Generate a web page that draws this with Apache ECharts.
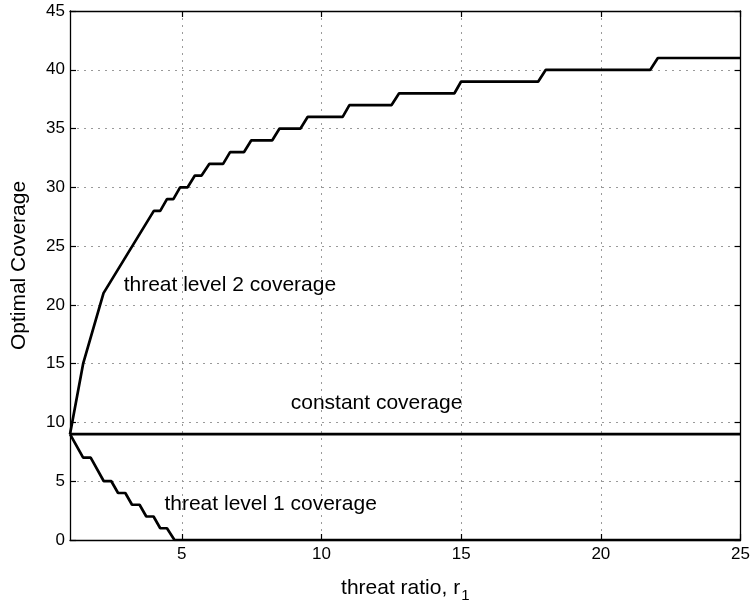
<!DOCTYPE html>
<html>
<head>
<meta charset="utf-8">
<script src="https://cdn.jsdelivr.net/npm/echarts@6/dist/echarts.min.js"></script>
<style>
  html, body { margin: 0; padding: 0; background: #fff; }
  #chart { width: 753px; height: 608px; }
</style>
</head>
<body>
<div id="chart"></div>
<script>
// ---- data ----
const level2X = [1, 1.47, 2.2, 4.0, 4.23, 4.47, 4.7, 4.94, 5.21, 5.47, 5.71, 5.99, 6.48, 6.73, 7.23, 7.49, 8.24, 8.5, 9.25, 9.51, 10.76, 11.0, 12.51, 12.78, 14.76, 15.0, 17.76, 18.03, 21.77, 22.04, 25];
const level2Y = [9, 15, 21, 28, 28, 29, 29, 30, 30, 31, 31, 32, 32, 33, 33, 34, 34, 35, 35, 36, 36, 37, 37, 38, 38, 39, 39, 40, 40, 41, 41];

const level1X = [1, 1.47, 1.74, 2.21, 2.48, 2.72, 2.98, 3.22, 3.49, 3.73, 3.99, 4.23, 4.47, 4.74, 25];
const level1Y = [9, 7, 7, 5, 5, 4, 4, 3, 3, 2, 2, 1, 1, 0, 0];

const constantX = [1, 25];
const constantY = [9, 9];

const xTicks = [5, 10, 15, 20, 25];
const yTicks = [0, 5, 10, 15, 20, 25, 30, 35, 40, 45];

const annotationText = ['threat level 2 coverage', 'constant coverage', 'threat level 1 coverage'];
const annotationX = [2.92, 8.9, 4.38];
const annotationY = [21.66, 11.6, 3.05];

// ---- chart ----
const FONT = '"Liberation Sans", Arial, Helvetica, sans-serif';
const zip = (xs, ys) => xs.map((x, i) => [x, ys[i]]);

const chart = echarts.init(document.getElementById('chart'), null, { renderer: 'canvas' });

const gridLine = { show: true, lineStyle: { color: '#9a9a9a', width: 1, type: [2, 5] } };
const axisLine = { show: true, onZero: false, lineStyle: { color: '#000', width: 1.3 } };

function annot(i) {
  return {
    coord: [annotationX[i], annotationY[i]],
    symbol: 'circle',
    symbolSize: 0,
    label: {
      show: true, position: 'right', distance: 0,
      formatter: annotationText[i],
      fontFamily: FONT, fontSize: 21, color: '#000'
    }
  };
}

const lineBase = {
  type: 'line', symbol: 'none', showSymbol: false, smooth: false,
  lineStyle: { color: '#000', width: 2.7 }, itemStyle: { color: '#000' },
  xAxisIndex: 0, yAxisIndex: 0, z: 5
};

chart.setOption({
  animation: false,
  backgroundColor: '#fff',
  grid: { left: 70, top: 11, width: 674, height: 532, containLabel: false },
  xAxis: [
    {
      type: 'value', min: 1, max: 25, position: 'bottom',
      axisLine: axisLine,
      axisTick: { show: true, inside: true, length: 6, customValues: xTicks, lineStyle: { color: '#000', width: 1.2 } },
      axisLabel: { show: true, customValues: xTicks, margin: 6, fontFamily: FONT, fontSize: 17, color: '#000' },
      splitLine: Object.assign({ customValues: xTicks }, gridLine),
      name: '{a|threat ratio, r}{s|1}',
      nameLocation: 'middle', nameGap: 34,
      nameTextStyle: {
        fontFamily: FONT, fontSize: 21, color: '#000',
        rich: {
          a: { fontFamily: FONT, fontSize: 21, color: '#000' },
          s: { fontFamily: FONT, fontSize: 15, color: '#000', padding: [14, 0, 0, 1] }
        }
      }
    },
    {
      type: 'value', min: 1, max: 25, position: 'top',
      axisLine: axisLine,
      axisTick: { show: true, inside: true, length: 6, customValues: xTicks, lineStyle: { color: '#000', width: 1.2 } },
      axisLabel: { show: false },
      splitLine: { show: false }
    }
  ],
  yAxis: [
    {
      type: 'value', min: 0, max: 45, interval: 5, position: 'left',
      axisLine: axisLine,
      axisTick: { show: true, inside: true, length: 6, lineStyle: { color: '#000', width: 1.2 } },
      axisLabel: { show: true, margin: 5, fontFamily: FONT, fontSize: 17, color: '#000' },
      splitLine: gridLine,
      name: 'Optimal Coverage', nameLocation: 'middle', nameGap: 40, nameRotate: 90,
      nameTextStyle: { fontFamily: FONT, fontSize: 21, color: '#000', padding: [0, 0, 0, 20] }
    },
    {
      type: 'value', min: 0, max: 45, interval: 5, position: 'right',
      axisLine: axisLine,
      axisTick: { show: true, inside: true, length: 6, lineStyle: { color: '#000', width: 1.2 } },
      axisLabel: { show: false },
      splitLine: { show: false }
    }
  ],
  series: [
    Object.assign({}, lineBase, {
      name: 'threat level 2 coverage', data: zip(level2X, level2Y),
      markPoint: { silent: true, data: [annot(0)] }
    }),
    Object.assign({}, lineBase, {
      name: 'constant coverage', data: zip(constantX, constantY),
      markPoint: { silent: true, data: [annot(1)] }
    }),
    Object.assign({}, lineBase, {
      name: 'threat level 1 coverage', data: zip(level1X, level1Y),
      markPoint: { silent: true, data: [annot(2)] }
    })
  ]
});
</script>
</body>
</html>
